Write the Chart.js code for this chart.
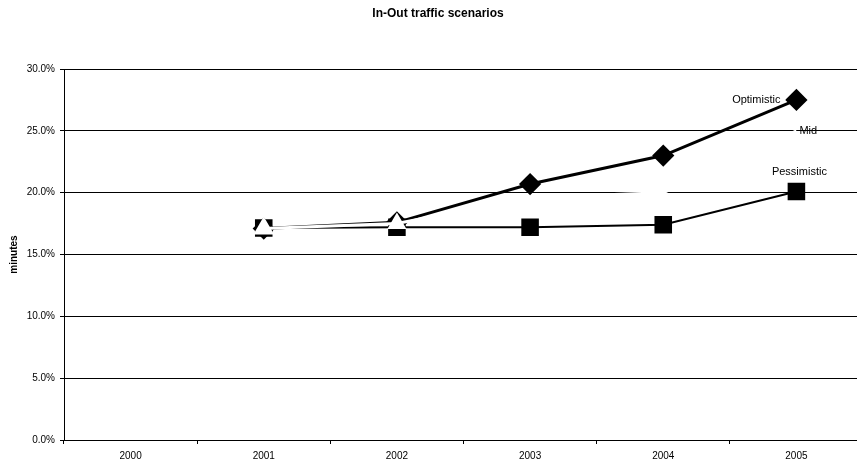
<!DOCTYPE html>
<html>
<head>
<meta charset="utf-8">
<script src="https://cdn.jsdelivr.net/npm/chart.js@4"></script>
<style>
  html, body { margin: 0; padding: 0; background: #fff; overflow: hidden; }
  /* the plot runs a little past the right edge of the page */
  #wrap { width: 876px; height: 464px; }
</style>
</head>
<body>
<div id="wrap"><canvas id="chart"></canvas></div>
<script>
const years = ['2000', '2001', '2002', '2003', '2004', '2005'];
const optimistic = [null, 17.1, 17.6, 20.7, 23.0, 27.5];
const mid = [null, 17.1, 17.5, 19.6, 20.0, 25.0];
const pessimistic = [null, 17.15, 17.2, 17.2, 17.4, 20.1];
const yTicks = [0, 5, 10, 15, 20, 25, 30];

const FONT = 'Arial, "Liberation Sans", sans-serif';

// series names written beside the last point of each line
const endLabels = {
    id: 'endLabels',
    afterDatasetsDraw(chart) {
        const c = chart.ctx;
        c.save();
        c.font = '11px ' + FONT;
        c.fillStyle = '#000';
        c.textBaseline = 'middle';
        chart.data.datasets.forEach((ds, i) => {
            const pts = chart.getDatasetMeta(i).data;
            const p = pts[pts.length - 1];
            if (ds.label === 'Optimistic') {
                c.textAlign = 'right';
                c.fillText(ds.label, p.x - 16, p.y);
            } else if (ds.label === 'Mid') {
                c.textAlign = 'left';
                c.fillText(ds.label, p.x + 3, p.y);
            } else {
                c.textAlign = 'center';
                c.fillText(ds.label, p.x + 3, p.y - 19);
            }
        });
        c.restore();
    }
};

new Chart(document.getElementById('chart'), {
    type: 'line',
    data: {
        labels: years,
        datasets: [
            {
                label: 'Mid',
                data: mid,
                borderColor: '#fff',
                borderWidth: 3,
                pointStyle: 'triangle',
                pointRadius: [0, 9, 8, 0, 0, 0],
                pointBackgroundColor: '#fff',
                pointBorderColor: '#fff',
                order: 0
            },
            {
                label: 'Pessimistic',
                data: pessimistic,
                borderColor: '#000',
                borderWidth: 2,
                pointStyle: 'rect',
                pointRadius: 11,
                pointBackgroundColor: '#000',
                pointBorderColor: '#000',
                order: 1
            },
            {
                label: 'Optimistic',
                data: optimistic,
                borderColor: '#000',
                borderWidth: 3,
                pointStyle: 'rectRot',
                pointRadius: 9,
                pointBackgroundColor: '#000',
                pointBorderColor: '#000',
                order: 2
            }
        ]
    },
    options: {
        responsive: true,
        maintainAspectRatio: false,
        animation: false,
        layout: { padding: 0 },
        scales: {
            x: {
                offset: true,
                afterFit: s => { s.height = 24; },
                grid: {
                    offset: true,
                    drawOnChartArea: false,
                    drawTicks: true,
                    tickLength: 4,
                    color: '#000'
                },
                border: { color: '#000', width: 1 },
                ticks: {
                    color: '#000',
                    font: { family: FONT, size: 10 },
                    padding: 6,
                    maxRotation: 0
                }
            },
            y: {
                min: 0,
                max: 30,
                afterFit: s => { s.width = 64; },
                afterBuildTicks: s => { s.ticks = yTicks.map(v => ({ value: v })); },
                grid: {
                    color: '#000',
                    lineWidth: 1,
                    tickLength: 4
                },
                border: { color: '#000', width: 1 },
                ticks: {
                    color: '#000',
                    font: { family: FONT, size: 10 },
                    padding: 5,
                    callback: v => v.toFixed(1) + '%'
                },
                title: {
                    display: true,
                    text: 'minutes',
                    color: '#000',
                    font: { family: FONT, size: 10, weight: 'bold' },
                    padding: { top: 8, bottom: 2 }
                }
            }
        },
        plugins: {
            legend: { display: false },
            tooltip: { enabled: false },
            title: {
                display: true,
                text: 'In-Out traffic scenarios',
                color: '#000',
                font: { family: FONT, size: 12, weight: 'bold' },
                padding: { top: 6, bottom: 48.6 }
            }
        }
    },
    plugins: [endLabels]
});
</script>
</body>
</html>
